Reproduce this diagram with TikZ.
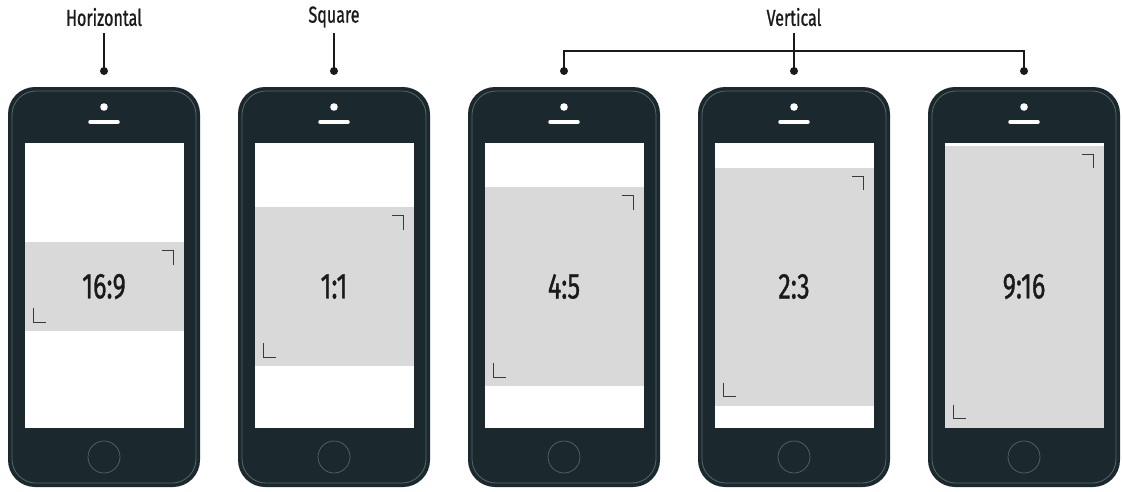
\documentclass[tikz,border=0pt]{standalone}
\usepackage{fontspec}
\newfontfamily\cond[FakeStretch=0.7,FakeBold=0.9]{Fira Sans}
\usetikzlibrary{calc}
\definecolor{phone}{HTML}{1B292E}
\definecolor{rim}{HTML}{56666B}
\definecolor{cropgray}{HTML}{D9D9D9}
\definecolor{markc}{HTML}{3A3A3A}
\definecolor{ink}{HTML}{1A1A1A}
\begin{document}
\begin{tikzpicture}[x=1pt,y=-1pt,
  phonebody/.style={draw=none,fill=phone,rounded corners=27pt,minimum width=192pt,minimum height=400pt,inner sep=0pt},
  rimline/.style={draw=rim,line width=0.8pt,rounded corners=24pt},
  screenbox/.style={fill=white,draw=none,minimum width=159pt,minimum height=285pt,inner sep=0pt},
  cropbox/.style={fill=cropgray,draw=none,minimum width=159pt,inner sep=0pt,font=\cond\fontsize{36}{38}\selectfont,text=ink},
  markline/.style={draw=markc,line width=1pt},
  homebtn/.style={draw=rim,line width=0.7pt},
  lbl/.style={font=\cond\fontsize{23}{25}\selectfont,text=ink,inner sep=1pt},
  conn/.style={draw=ink,line width=1.5pt},
  dotc/.style={fill=ink,circle,inner sep=0pt,minimum size=8pt}
]
\useasboundingbox (0,0) rectangle (1123,491);
\foreach \cx/\n/\h/\t in {104/a/89/16:9, 334/b/159/1:1, 564/c/199/4:5, 794/d/238/2:3, 1024/e/282/9:16}{
  \node[phonebody] (p\n) at (\cx,287) {};
  \draw[rimline] (\cx-92,91) rectangle (\cx+92,483);
  \node[screenbox] (s\n) at (\cx,285.5) {};
  \node[cropbox,minimum height=\h pt] (c\n) at (\cx,286.5) {\t};
  \draw[markline] ($(c\n.north east)+(-22,9)$) -- ++(12,0) -- ++(0,14);
  \draw[markline] ($(c\n.south west)+(9,-23)$) -- ++(0,14) -- ++(13,0);
  \fill[white] (\cx,107) circle (3.8);
  \draw[white,line width=3.5pt,line cap=round] (\cx-14,122) -- (\cx+14,122);
  \draw[homebtn] (\cx,457) circle (16);
  \node[dotc] (d\n) at (\cx,71) {};
}
\node[lbl] (lh) at (104,17) {Horizontal};
\node[lbl] (ls) at (334,17) {Square};
\node[lbl] (lv) at (794,17) {Vertical};
\coordinate (bl) at (564,51);
\coordinate (br) at (1024,51);
\coordinate (bm) at (794,51);
\draw[conn] (104,33) -- (da.center);
\draw[conn] (334,33) -- (db.center);
\draw[conn] (794,33) -- (dd.center);
\draw[conn] (dc.center) -- (bl) -- (br) -- (de.center);
\end{tikzpicture}
\end{document}
